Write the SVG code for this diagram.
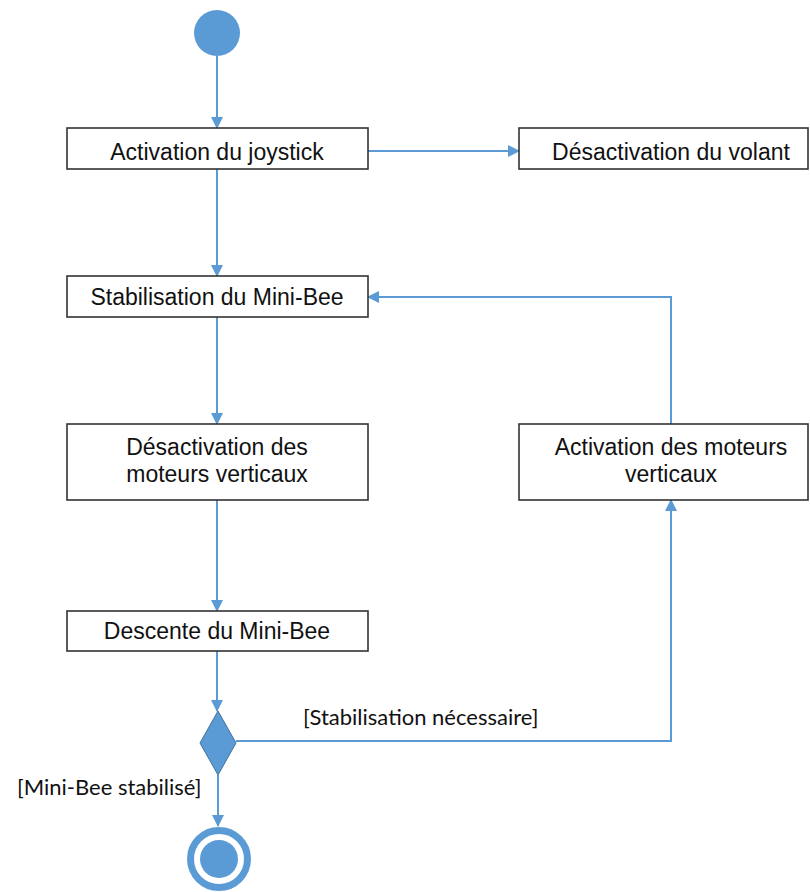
<svg xmlns="http://www.w3.org/2000/svg" width="810" height="892" viewBox="0 0 810 892">
<defs>
<style>
.box{fill:#fff;stroke:#333;stroke-width:1.6}
.t{font-family:"Liberation Sans",Arial,sans-serif;font-size:23px;fill:#111;text-anchor:middle}
.g{font-family:Lato,"Liberation Sans",sans-serif;font-size:22px;fill:#111}
.c{fill:none;stroke:#5B9BD5;stroke-width:2}
</style>
<marker id="ah" viewBox="0 0 12 12" refX="11" refY="6" markerWidth="12" markerHeight="12" markerUnits="userSpaceOnUse" orient="auto">
<path d="M0,0 L12,6 L0,12 Z" fill="#5B9BD5"/>
</marker>
</defs>
<rect width="810" height="892" fill="#fff"/>
<g id="connectors">
<path class="c" d="M217,56 V128" marker-end="url(#ah)"/>
<path class="c" d="M368,151 H519" marker-end="url(#ah)"/>
<path class="c" d="M217,169 V276" marker-end="url(#ah)"/>
<path class="c" d="M217,317 V424" marker-end="url(#ah)"/>
<path class="c" d="M217,500 V611" marker-end="url(#ah)"/>
<path class="c" d="M217,651 V711" marker-end="url(#ah)"/>
<path class="c" d="M236,741 H671 V500" marker-end="url(#ah)"/>
<path class="c" d="M671,424 V297 H368" marker-end="url(#ah)"/>
<path class="c" d="M218,775 V826" marker-end="url(#ah)"/>
</g>
<g id="start"><circle cx="217" cy="33" r="23" fill="#5B9BD5"/></g>
<g id="n1"><rect class="box" x="67" y="128" width="301" height="41"/><text class="t" x="217" y="160">Activation du joystick</text></g>
<g id="n2"><rect class="box" x="519" y="128" width="289" height="41"/><text class="t" x="671" y="160">Désactivation du volant</text></g>
<g id="n3"><rect class="box" x="67" y="276" width="301" height="41"/><text class="t" x="217" y="305">Stabilisation du Mini-Bee</text></g>
<g id="n4"><rect class="box" x="67" y="424" width="301" height="76"/><text class="t" x="217" y="455">Désactivation des</text><text class="t" x="217" y="482">moteurs verticaux</text></g>
<g id="n5"><rect class="box" x="519" y="424" width="289" height="76"/><text class="t" x="671" y="455">Activation des moteurs</text><text class="t" x="671" y="482">verticaux</text></g>
<g id="n6"><rect class="box" x="67" y="611" width="301" height="40"/><text class="t" x="217" y="639">Descente du Mini-Bee</text></g>
<g id="decision"><path d="M218,711 L236,743 L218,775 L200,743 Z" fill="#5B9BD5" stroke="#41719C" stroke-width="1"/></g>
<g id="labels">
<text class="g" x="303" y="725">[Stabilisation nécessaire]</text>
<text class="g" x="17" y="795">[Mini-Bee stabilisé]</text>
</g>
<g id="end"><circle cx="219" cy="859" r="28.5" fill="none" stroke="#5B9BD5" stroke-width="7"/><circle cx="219" cy="859" r="19" fill="#5B9BD5"/></g>
</svg>
